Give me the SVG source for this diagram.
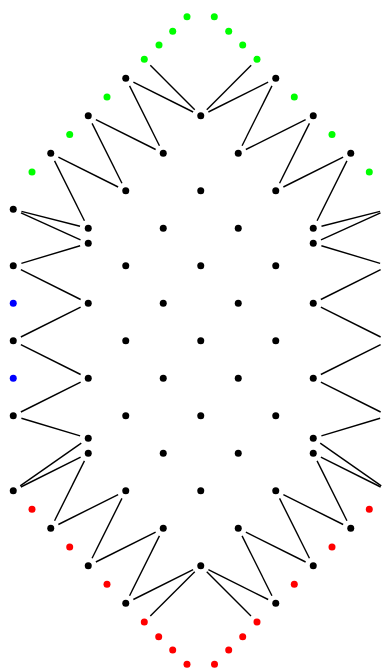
<svg xmlns="http://www.w3.org/2000/svg" width="385" height="668" viewBox="0 0 385 668">
<style>
.n{fill:#000}
.g{fill:#00ff00}
.r{fill:#ff0000}
.b{fill:#0000ff}
#edges line{stroke:#000;stroke-width:1.4;stroke-linecap:butt}
</style>
<rect width="385" height="668" fill="#fff"/>
<g id="edges">
<line x1="150.31" y1="65.31" x2="194.74" y2="109.79"/>
<line x1="133.35" y1="82.1" x2="193.15" y2="112.0"/>
<line x1="129.55" y1="85.9" x2="159.45" y2="145.7"/>
<line x1="95.85" y1="119.6" x2="155.65" y2="149.5"/>
<line x1="92.05" y1="123.4" x2="121.95" y2="183.2"/>
<line x1="58.35" y1="157.1" x2="118.15" y2="187.0"/>
<line x1="54.55" y1="160.9" x2="84.45" y2="220.7"/>
<line x1="21.49" y1="211.39" x2="80.01" y2="226.21"/>
<line x1="20.99" y1="212.81" x2="80.51" y2="239.79"/>
<line x1="21.39" y1="263.36" x2="80.11" y2="245.74"/>
<line x1="20.85" y1="269.6" x2="80.65" y2="299.5"/>
<line x1="20.85" y1="337.0" x2="80.65" y2="307.1"/>
<line x1="20.85" y1="344.6" x2="80.65" y2="374.5"/>
<line x1="20.85" y1="412.0" x2="80.65" y2="382.1"/>
<line x1="21.39" y1="418.24" x2="80.11" y2="435.86"/>
<line x1="20.21" y1="485.93" x2="81.29" y2="443.17"/>
<line x1="20.85" y1="487.0" x2="80.65" y2="457.1"/>
<line x1="54.55" y1="520.7" x2="84.45" y2="460.9"/>
<line x1="58.35" y1="524.5" x2="118.15" y2="494.6"/>
<line x1="92.05" y1="558.2" x2="121.95" y2="498.4"/>
<line x1="95.85" y1="562.0" x2="155.65" y2="532.1"/>
<line x1="129.55" y1="595.7" x2="159.45" y2="535.9"/>
<line x1="133.35" y1="599.5" x2="193.15" y2="569.6"/>
<line x1="150.32" y1="616.01" x2="194.73" y2="571.79"/>
<line x1="251.19" y1="65.31" x2="206.76" y2="109.79"/>
<line x1="268.15" y1="82.1" x2="208.35" y2="112.0"/>
<line x1="271.95" y1="85.9" x2="242.05" y2="145.7"/>
<line x1="305.65" y1="119.6" x2="245.85" y2="149.5"/>
<line x1="309.45" y1="123.4" x2="279.55" y2="183.2"/>
<line x1="343.15" y1="157.1" x2="283.35" y2="187.0"/>
<line x1="346.95" y1="160.9" x2="317.05" y2="220.7"/>
<line x1="380.01" y1="211.39" x2="321.49" y2="226.21"/>
<line x1="380.51" y1="212.81" x2="320.99" y2="239.79"/>
<line x1="380.11" y1="263.36" x2="321.39" y2="245.74"/>
<line x1="380.65" y1="269.6" x2="320.85" y2="299.5"/>
<line x1="380.65" y1="337.0" x2="320.85" y2="307.1"/>
<line x1="380.65" y1="344.6" x2="320.85" y2="374.5"/>
<line x1="380.65" y1="412.0" x2="320.85" y2="382.1"/>
<line x1="380.11" y1="418.24" x2="321.39" y2="435.86"/>
<line x1="381.29" y1="485.93" x2="320.21" y2="443.17"/>
<line x1="380.65" y1="487.0" x2="320.85" y2="457.1"/>
<line x1="346.95" y1="520.7" x2="317.05" y2="460.9"/>
<line x1="343.15" y1="524.5" x2="283.35" y2="494.6"/>
<line x1="309.45" y1="558.2" x2="279.55" y2="498.4"/>
<line x1="305.65" y1="562.0" x2="245.85" y2="532.1"/>
<line x1="271.95" y1="595.7" x2="242.05" y2="535.9"/>
<line x1="268.15" y1="599.5" x2="208.35" y2="569.6"/>
<line x1="250.98" y1="616.01" x2="206.77" y2="571.79"/>
</g>
<g id="nodes">
<g id="n1"><circle class="n" cx="125.75" cy="78.3" r="3.5"/></g>
<g id="n2"><circle class="n" cx="275.75" cy="78.3" r="3.5"/></g>
<g id="n3"><circle class="n" cx="88.25" cy="115.8" r="3.5"/></g>
<g id="n4"><circle class="n" cx="200.75" cy="115.8" r="3.5"/></g>
<g id="n5"><circle class="n" cx="313.25" cy="115.8" r="3.5"/></g>
<g id="n6"><circle class="n" cx="50.75" cy="153.3" r="3.5"/></g>
<g id="n7"><circle class="n" cx="163.25" cy="153.3" r="3.5"/></g>
<g id="n8"><circle class="n" cx="238.25" cy="153.3" r="3.5"/></g>
<g id="n9"><circle class="n" cx="350.75" cy="153.3" r="3.5"/></g>
<g id="n10"><circle class="n" cx="125.75" cy="190.8" r="3.5"/></g>
<g id="n11"><circle class="n" cx="200.75" cy="190.8" r="3.5"/></g>
<g id="n12"><circle class="n" cx="275.75" cy="190.8" r="3.5"/></g>
<g id="n13"><circle class="n" cx="13.25" cy="209.3" r="3.5"/></g>
<g id="n14"><circle class="n" cx="389" cy="209.3" r="3.5"/></g>
<g id="n15"><circle class="n" cx="88.25" cy="228.3" r="3.5"/></g>
<g id="n16"><circle class="n" cx="163.25" cy="228.3" r="3.5"/></g>
<g id="n17"><circle class="n" cx="238.25" cy="228.3" r="3.5"/></g>
<g id="n18"><circle class="n" cx="313.25" cy="228.3" r="3.5"/></g>
<g id="n19"><circle class="n" cx="88.25" cy="243.3" r="3.5"/></g>
<g id="n20"><circle class="n" cx="313.25" cy="243.3" r="3.5"/></g>
<g id="n21"><circle class="n" cx="13.25" cy="265.8" r="3.5"/></g>
<g id="n22"><circle class="n" cx="125.75" cy="265.8" r="3.5"/></g>
<g id="n23"><circle class="n" cx="200.75" cy="265.8" r="3.5"/></g>
<g id="n24"><circle class="n" cx="275.75" cy="265.8" r="3.5"/></g>
<g id="n25"><circle class="n" cx="389" cy="265.8" r="3.5"/></g>
<g id="n26"><circle class="b" cx="13.25" cy="303.3" r="3.5"/></g>
<g id="n27"><circle class="n" cx="88.25" cy="303.3" r="3.5"/></g>
<g id="n28"><circle class="n" cx="163.25" cy="303.3" r="3.5"/></g>
<g id="n29"><circle class="n" cx="238.25" cy="303.3" r="3.5"/></g>
<g id="n30"><circle class="n" cx="313.25" cy="303.3" r="3.5"/></g>
<g id="n31"><circle class="n" cx="13.25" cy="340.8" r="3.5"/></g>
<g id="n32"><circle class="n" cx="125.75" cy="340.8" r="3.5"/></g>
<g id="n33"><circle class="n" cx="200.75" cy="340.8" r="3.5"/></g>
<g id="n34"><circle class="n" cx="275.75" cy="340.8" r="3.5"/></g>
<g id="n35"><circle class="n" cx="389" cy="340.8" r="3.5"/></g>
<g id="n36"><circle class="b" cx="13.25" cy="378.3" r="3.5"/></g>
<g id="n37"><circle class="n" cx="88.25" cy="378.3" r="3.5"/></g>
<g id="n38"><circle class="n" cx="163.25" cy="378.3" r="3.5"/></g>
<g id="n39"><circle class="n" cx="238.25" cy="378.3" r="3.5"/></g>
<g id="n40"><circle class="n" cx="313.25" cy="378.3" r="3.5"/></g>
<g id="n41"><circle class="n" cx="13.25" cy="415.8" r="3.5"/></g>
<g id="n42"><circle class="n" cx="125.75" cy="415.8" r="3.5"/></g>
<g id="n43"><circle class="n" cx="200.75" cy="415.8" r="3.5"/></g>
<g id="n44"><circle class="n" cx="275.75" cy="415.8" r="3.5"/></g>
<g id="n45"><circle class="n" cx="389" cy="415.8" r="3.5"/></g>
<g id="n46"><circle class="n" cx="88.25" cy="438.3" r="3.5"/></g>
<g id="n47"><circle class="n" cx="313.25" cy="438.3" r="3.5"/></g>
<g id="n48"><circle class="n" cx="88.25" cy="453.3" r="3.5"/></g>
<g id="n49"><circle class="n" cx="163.25" cy="453.3" r="3.5"/></g>
<g id="n50"><circle class="n" cx="238.25" cy="453.3" r="3.5"/></g>
<g id="n51"><circle class="n" cx="313.25" cy="453.3" r="3.5"/></g>
<g id="n52"><circle class="n" cx="13.25" cy="490.8" r="3.5"/></g>
<g id="n53"><circle class="n" cx="125.75" cy="490.8" r="3.5"/></g>
<g id="n54"><circle class="n" cx="200.75" cy="490.8" r="3.5"/></g>
<g id="n55"><circle class="n" cx="275.75" cy="490.8" r="3.5"/></g>
<g id="n56"><circle class="n" cx="389" cy="490.8" r="3.5"/></g>
<g id="n57"><circle class="n" cx="50.75" cy="528.3" r="3.5"/></g>
<g id="n58"><circle class="n" cx="163.25" cy="528.3" r="3.5"/></g>
<g id="n59"><circle class="n" cx="238.25" cy="528.3" r="3.5"/></g>
<g id="n60"><circle class="n" cx="350.75" cy="528.3" r="3.5"/></g>
<g id="n61"><circle class="n" cx="88.25" cy="565.8" r="3.5"/></g>
<g id="n62"><circle class="n" cx="200.75" cy="565.8" r="3.5"/></g>
<g id="n63"><circle class="n" cx="313.25" cy="565.8" r="3.5"/></g>
<g id="n64"><circle class="n" cx="125.75" cy="603.3" r="3.5"/></g>
<g id="n65"><circle class="n" cx="275.75" cy="603.3" r="3.5"/></g>
<g id="g1"><circle class="g" cx="187" cy="16.7" r="3.5"/></g>
<g id="g2"><circle class="g" cx="214.3" cy="16.7" r="3.5"/></g>
<g id="g3"><circle class="g" cx="172.7" cy="31.3" r="3.5"/></g>
<g id="g4"><circle class="g" cx="228.7" cy="31.3" r="3.5"/></g>
<g id="g5"><circle class="g" cx="159" cy="45" r="3.5"/></g>
<g id="g6"><circle class="g" cx="242.7" cy="45" r="3.5"/></g>
<g id="g7"><circle class="g" cx="144.3" cy="59.3" r="3.5"/></g>
<g id="g8"><circle class="g" cx="257" cy="59.3" r="3.5"/></g>
<g id="g9"><circle class="g" cx="107" cy="97" r="3.5"/></g>
<g id="g10"><circle class="g" cx="294.3" cy="97" r="3.5"/></g>
<g id="g11"><circle class="g" cx="69.7" cy="134.5" r="3.5"/></g>
<g id="g12"><circle class="g" cx="332" cy="134.5" r="3.5"/></g>
<g id="g13"><circle class="g" cx="32" cy="172" r="3.5"/></g>
<g id="g14"><circle class="g" cx="369.3" cy="172" r="3.5"/></g>
<g id="r1"><circle class="r" cx="187" cy="664.3" r="3.5"/></g>
<g id="r2"><circle class="r" cx="214.5" cy="664.3" r="3.5"/></g>
<g id="r3"><circle class="r" cx="172.7" cy="650" r="3.5"/></g>
<g id="r4"><circle class="r" cx="228.7" cy="650" r="3.5"/></g>
<g id="r5"><circle class="r" cx="158.7" cy="636.7" r="3.5"/></g>
<g id="r6"><circle class="r" cx="242.7" cy="636.7" r="3.5"/></g>
<g id="r7"><circle class="r" cx="144.3" cy="622" r="3.5"/></g>
<g id="r8"><circle class="r" cx="257" cy="622" r="3.5"/></g>
<g id="r9"><circle class="r" cx="107" cy="584.3" r="3.5"/></g>
<g id="r10"><circle class="r" cx="294.3" cy="584.3" r="3.5"/></g>
<g id="r11"><circle class="r" cx="69.7" cy="547" r="3.5"/></g>
<g id="r12"><circle class="r" cx="332" cy="547" r="3.5"/></g>
<g id="r13"><circle class="r" cx="32" cy="509.3" r="3.5"/></g>
<g id="r14"><circle class="r" cx="369.3" cy="509.3" r="3.5"/></g>
</g>
</svg>
